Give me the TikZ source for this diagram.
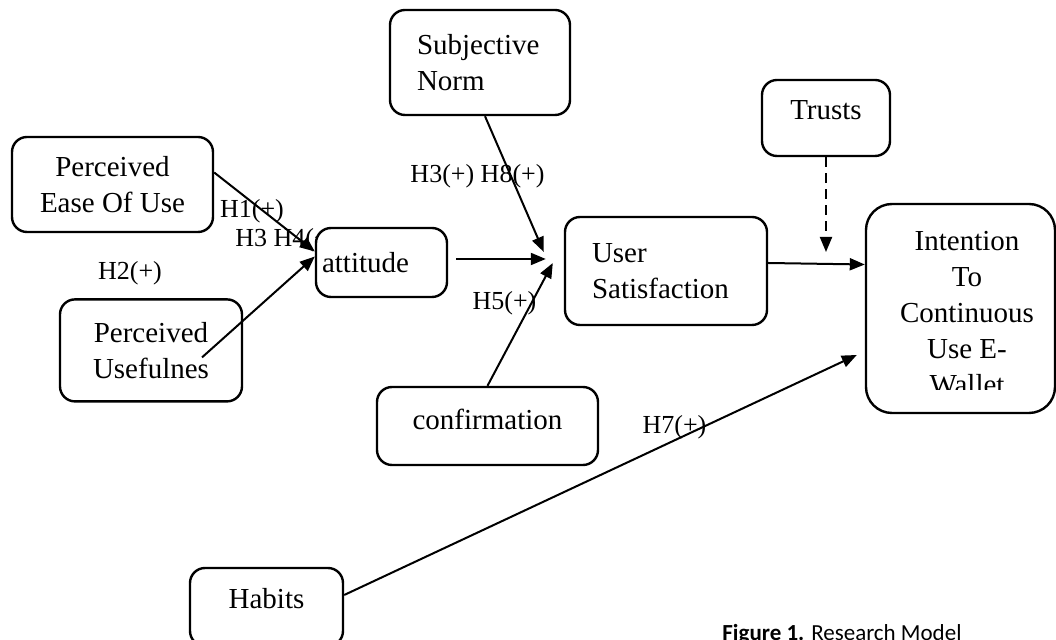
\documentclass[tikz,border=0pt]{standalone}
\usepackage{fontspec}
\setmainfont{Liberation Serif}
\newfontfamily\captionfont{Carlito}
\usepackage{tikz}
\usetikzlibrary{arrows.meta, positioning, calc}
\definecolor{darkText}{RGB}{0,0,0}
\tikzset{
    construct/.style={rectangle, rounded corners=7.5pt, draw=darkText, fill=white, line width=1.2pt,
                 align=center, inner sep=2pt, font=\fontsize{14.5}{18}\selectfont},
    leftconstruct/.style={construct, text width=#1, align=left},
    highconstruct/.style={construct, text height=10pt, text depth=#1},
    highconstruct/.default=8pt,
    link/.style={-{Triangle[length=7.5pt, width=6pt]}, line width=1pt, darkText},
    dlink/.style={link, dash pattern=on 5pt off 3pt},
    hyp/.style={font=\fontsize{13}{16}\selectfont, inner sep=0pt, anchor=base, text=darkText},
    caption/.style={font=\captionfont\fontsize{11.5}{14}\selectfont, inner sep=0pt, anchor=base west}
}

\begin{document}
\begin{tikzpicture}[x=0.5pt, y=-0.5pt]
    \useasboundingbox (0,0) rectangle (1056,640);

    % hypothesis labels first, so the boxes can sit over them
    \node[hyp] (h1) at (252,218) {H1(+)};
    \node[hyp, anchor=base west] (h34) at (235,247) {H3 H4(+)};
    \node[hyp] (h2) at (130,280) {H2(+)};
    \node[hyp] (h38) at (477.5,183) {H3(+) H8(+)};
    \node[hyp] (h5) at (504.5,310) {H5(+)};
    \node[hyp] (h7) at (674.5,434) {H7(+)};

    \node[construct, minimum width=100.5pt, minimum height=47.5pt] (peou) at (112.5,184.5) {Perceived\\Ease Of Use};
    \node[construct, minimum width=91pt, minimum height=51pt, below=32.5pt of peou, xshift=19.25pt] (pu) {Perceived\\Usefulnes};
    \node[leftconstruct=59.5pt, inner xsep=3pt, minimum height=34.5pt] (att) at (381.5,262.5) {attitude};
    \node[leftconstruct=63pt, inner xsep=13.5pt, minimum height=52.5pt] (sn) at (480,62.5) {Subjective\\Norm};
    \node[leftconstruct=74pt, inner xsep=13.5pt, minimum height=54pt] (us) at (666,271) {User\\Satisfaction};
    \node[highconstruct=6pt, minimum width=110.5pt, minimum height=39pt] (conf) at (487.5,426) {confirmation};
    \node[highconstruct, minimum width=64pt, minimum height=38pt] (trusts) at (826,118) {Trusts};
    \node[highconstruct, minimum width=76.5pt, minimum height=39pt] (habits) at (266.5,607) {Habits};
    \node[construct, rounded corners=13pt, minimum width=94.5pt, minimum height=104.5pt] (int) at (960.5,308.5) {};
    \begin{scope}
        \clip (870,210) rectangle (1050,390);
        \node[construct, draw=none, fill=none] (intText) at (967,313) {Intention\\To\\Continuous\\Use E-\\Wallet};
    \end{scope}

    \coordinate (trustsEnd) at (826,252);

    \draw[link] ($(peou.east)+(0,-12)$) -- ($(att.west)+(0,-11)$);
    \draw[link] ($(pu.center)+(51,7)$) -- ($(att.west)+(0,-6)$);
    \draw[link] ($(sn.south)+(5,0)$) -- ($(us.west)+(-20,-19)$);
    \draw[link] ($(att.east)+(8,-3.5)$) -- ($(us.west)+(-18,-12)$);
    \draw[link] (conf.north) -- ($(us.west)+(-11,-8)$);
    \draw[link] ($(us.east)+(0,-8)$) -- ($(int.west)+(0,-44)$);
    \draw[dlink] (trusts.south) -- (trustsEnd);
    \draw[link] ($(habits.east)+(0,-12)$) -- ($(int.west)+(-8,46.5)$);

    \node[caption] (cap) at (722,641) {\textbf{Figure 1.} Research Model};
\end{tikzpicture}
\end{document}
